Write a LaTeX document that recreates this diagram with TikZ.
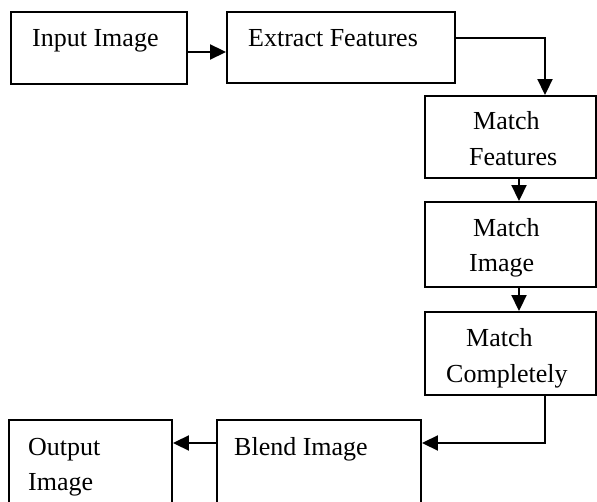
\documentclass[tikz,border=0pt]{standalone}
\usepackage{fontspec}
\setmainfont{Liberation Serif}
\usetikzlibrary{arrows.meta}
\begin{document}
\begin{tikzpicture}[x=1pt,y=1pt,
  box/.style={draw, line width=1.9pt, rectangle, inner sep=0pt},
  lbl/.style={anchor=base west, inner sep=0pt, font=\fontsize{26}{30}\selectfont},
  arr/.style={line width=1.9pt, -{Triangle[length=16pt,width=15pt]}}]
\useasboundingbox (0,0) rectangle (597,-502);
% boxes
\node[box, minimum width=176pt, minimum height=72pt] (in)  at (99,-48) {};
\node[box, minimum width=228pt, minimum height=71pt] (ext) at (341,-47.5) {};
\node[box, minimum width=171pt, minimum height=82pt] (mf)  at (510.5,-137) {};
\node[box, minimum width=171pt, minimum height=85pt] (mi)  at (510.5,-244.5) {};
\node[box, minimum width=171pt, minimum height=83pt] (mc)  at (510.5,-353.5) {};
\node[box, minimum width=204pt, minimum height=84pt] (bl)  at (319,-462) {};
\node[box, minimum width=163pt, minimum height=84pt] (out) at (90.5,-462) {};
% labels
\node[lbl] (tin)  at (32,-47) {Input Image};
\node[lbl] (text) at (248,-47) {Extract Features};
\node[lbl] (tmf1) at (473,-130) {Match};
\node[lbl] (tmf2) at (469,-166) {Features};
\node[lbl] (tmi1) at (473,-237) {Match};
\node[lbl] (tmi2) at (469,-272) {Image};
\node[lbl] (tmc1) at (466,-347) {Match};
\node[lbl] (tmc2) at (446,-383) {Completely};
\node[lbl] (tbl)  at (234,-455) {Blend Image};
\node[lbl] (tou1) at (28,-455) {Output};
\node[lbl] (tou2) at (28,-490) {Image};
% connectors
\draw[arr] ([yshift=-4pt]in.east) -- ([yshift=-4pt]in.east -| ext.west);
\draw[arr] ([yshift=9.5pt]ext.east) -| ([xshift=34.5pt]mf.north);
\draw[arr] ([xshift=8.5pt]mf.south) -- ([xshift=8.5pt]mi.north);
\draw[arr] ([xshift=8.5pt]mi.south) -- ([xshift=8.5pt]mc.north);
\draw[arr] ([xshift=34.5pt]mc.south) |- (bl.east |- 0,-443);
\draw[arr] (bl.west |- 0,-443) -- (out.east |- 0,-443);
\end{tikzpicture}
\end{document}
